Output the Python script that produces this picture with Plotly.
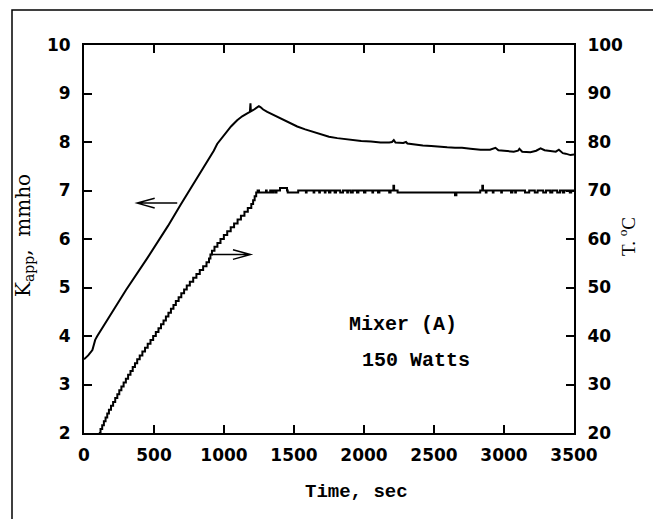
import plotly.graph_objects as go

# ---------------- data ----------------
k_time = [0, 30, 60, 80, 95, 110, 150, 213, 300, 451, 600, 689, 800, 927, 951,
          1000, 1050, 1094, 1130, 1166, 1185, 1189, 1192, 1210, 1230, 1249, 1260,
          1280, 1309, 1350, 1404, 1450, 1523, 1580, 1641, 1700, 1750, 1809, 1860,
          1927, 1980, 2050, 2118, 2180, 2200, 2213, 2225, 2280, 2300, 2310, 2356,
          2420, 2480, 2540, 2594, 2650, 2700, 2760, 2832, 2900, 2939, 2960, 3000,
          3070, 3100, 3110, 3130, 3189, 3230, 3261, 3290, 3332, 3370, 3392, 3420,
          3440, 3475, 3500]
k_app = [3.52, 3.60, 3.71, 3.92, 4.00, 4.07, 4.27, 4.54, 4.95, 5.60, 6.27, 6.70,
         7.22, 7.82, 7.96, 8.15, 8.32, 8.45, 8.53, 8.59, 8.62, 8.80, 8.63, 8.66,
         8.70, 8.74, 8.72, 8.67, 8.62, 8.56, 8.49, 8.42, 8.32, 8.26, 8.21, 8.15,
         8.11, 8.08, 8.06, 8.04, 8.02, 8.01, 7.99, 7.99, 8.00, 8.04, 7.99, 7.98,
         8.00, 7.97, 7.95, 7.93, 7.92, 7.90, 7.89, 7.88, 7.88, 7.86, 7.84, 7.84,
         7.88, 7.83, 7.82, 7.80, 7.82, 7.86, 7.80, 7.79, 7.82, 7.87, 7.83, 7.81,
         7.80, 7.84, 7.77, 7.76, 7.73, 7.74]

t_time = [106, 118, 130, 142, 154, 166, 178, 193, 208, 223, 238, 252, 267, 283,
          299, 315, 332, 348, 364, 380, 398, 417, 436, 455, 475, 494, 513, 532,
          550, 568, 585, 603, 621, 639, 656, 676, 695, 715, 734, 756, 780, 803,
          827, 851, 875, 893, 903, 914, 932, 953, 975, 999, 1023, 1048, 1072,
          1097, 1121, 1146, 1170, 1195, 1208, 1219, 1230,
          1240, 1250, 1300, 1305, 1330, 1340, 1350, 1365, 1375, 1400, 1450, 1455,
          1530, 1585, 1590, 1640, 1645, 1680, 1685, 1720, 1725, 1750, 1760, 1790,
          1800, 1830, 1850, 1880, 1885, 1905, 1920, 1950, 1960, 2000, 2010, 2060,
          2065, 2100, 2110, 2180, 2190, 2210, 2215, 2240, 2650, 2660, 2830, 2845,
          2850, 2870, 2875, 2920, 2925, 2980, 2985, 3050, 3060, 3080, 3085, 3150,
          3180, 3220, 3240, 3280, 3300, 3330, 3345, 3380, 3400, 3420, 3430, 3470,
          3480, 3500]
temp_c = [20.0, 20.8, 21.6, 22.4, 23.2, 24.0, 24.8, 25.6, 26.4, 27.2, 28.0, 28.8,
          29.6, 30.4, 31.2, 32.0, 32.8, 33.6, 34.4, 35.2, 36.0, 36.8, 37.6, 38.4,
          39.2, 40.0, 40.8, 41.6, 42.4, 43.2, 44.0, 44.8, 45.6, 46.4, 47.2, 48.0,
          48.8, 49.6, 50.4, 51.2, 52.0, 52.8, 53.6, 54.4, 55.2, 56.0, 56.8, 57.6,
          58.4, 59.2, 60.0, 60.8, 61.6, 62.4, 63.2, 64.0, 64.8, 65.6, 66.4, 67.2,
          68.0, 68.8, 69.6,
          70.0, 69.6, 70.0, 69.6, 70.0, 69.6, 70.0, 69.6, 70.0, 70.5, 70.0, 69.6,
          70.0, 69.6, 70.0, 69.6, 70.0, 69.6, 70.0, 69.6, 70.0, 69.6, 70.0, 69.6,
          70.0, 69.6, 70.0, 69.6, 70.0, 69.6, 70.0, 69.6, 70.0, 69.6, 70.0, 69.6,
          70.0, 69.6, 70.0, 69.6, 70.0, 71.0, 70.0, 69.6, 69.0, 69.6, 70.0, 71.0,
          70.0, 69.6, 70.0, 69.6, 70.0, 69.6, 70.0, 69.6, 70.0, 69.6, 70.0, 69.6,
          70.0, 69.6, 70.0, 69.6, 70.0, 69.6, 70.0, 69.6, 70.0, 69.6, 70.0, 69.6,
          70.0, 70.0]

x_ticks = [0, 500, 1000, 1500, 2000, 2500, 3000, 3500]
k_ticks = [2, 3, 4, 5, 6, 7, 8, 9, 10]
t_ticks = [20, 30, 40, 50, 60, 70, 80, 90, 100]

# ---------------- figure ----------------
W, H = 661, 519
OFF = 8                      # page body margin in the browser
PL, PR, PT, PB = 84, 574, 45, 433   # wanted plot-area box in the photo
ML, MT = PL - OFF, PT - OFF
MR, MB = W - PR + OFF, H - PB + OFF
PW, PH = PR - PL, PB - PT

fig = go.Figure()
fig.add_trace(go.Scatter(x=k_time, y=k_app, mode="lines",
                         line=dict(color="black", width=2), yaxis="y"))
fig.add_trace(go.Scatter(x=t_time, y=temp_c, mode="lines",
                         line=dict(color="black", width=2, shape="hv"), yaxis="y2"))

tickfont = dict(family="DejaVu Sans", size=17, color="black", weight="bold")
axis_common = dict(showgrid=False, zeroline=False, showline=True, linecolor="black",
                   linewidth=2, ticks="inside", ticklen=8, tickwidth=2,
                   tickcolor="black", tickfont=tickfont, automargin=False)

fig.update_layout(
    width=W, height=H, margin=dict(l=ML, r=MR, t=MT, b=MB, autoexpand=False),
    paper_bgcolor="white", plot_bgcolor="white", showlegend=False,
    xaxis=dict(range=[0, 3500], tickvals=x_ticks, mirror="ticks",
               ticklabelstandoff=6, **axis_common),
    yaxis=dict(range=[2, 10], tickvals=k_ticks, ticklabelstandoff=8, **axis_common),
    yaxis2=dict(range=[20, 100], tickvals=t_ticks, overlaying="y", side="right",
                ticklabelstandoff=8, **axis_common),
)

# arrows (open V heads)
def arrow_path(x0, x1, y, head_dx, head_dy):
    # x1 is the tip
    return (f"M {x0},{y} L {x1},{y} M {x1 + head_dx},{y + head_dy} "
            f"L {x1},{y} L {x1 + head_dx},{y - head_dy}")

fig.add_shape(type="path", xref="x", yref="y",
              path=arrow_path(666, 380, 6.74, 125, 0.10),
              line=dict(color="black", width=1.5))
fig.add_shape(type="path", xref="x", yref="y",
              path=arrow_path(904, 1189, 5.68, -125, 0.10),
              line=dict(color="black", width=1.5))

def px(x):
    return (x - PL) / PW

def py(y):
    return (PB - y) / PH

# outer frame
fig.add_shape(type="rect", xref="paper", yref="paper",
              x0=px(12), x1=px(720), y0=py(580), y1=py(10),
              line=dict(color="black", width=1.5))

mono = "Liberation Mono"
fig.add_annotation(x=2279, y=4.23, xref="x", yref="y", text="<b>Mixer (A)</b>",
                   xanchor="center", yanchor="middle",
                   showarrow=False, font=dict(family=mono, size=20, color="black"))
fig.add_annotation(x=2371, y=3.50, xref="x", yref="y", text="<b>150 Watts</b>",
                   xanchor="center", yanchor="middle",
                   showarrow=False, font=dict(family=mono, size=20, color="black"))

fig.add_annotation(x=px(356), y=py(492), xref="paper", yref="paper",
                   xanchor="center", yanchor="middle",
                   text="<b>Time, sec</b>", showarrow=False,
                   font=dict(family=mono, size=19, color="black"))
fig.add_annotation(x=px(24), y=py(236), xref="paper", yref="paper",
                   xanchor="center", yanchor="middle",
                   text="K<sub>app</sub>,  mmho", textangle=-90, showarrow=False,
                   font=dict(family="DejaVu Serif", size=20, color="black"))
fig.add_annotation(x=px(627), y=py(237), xref="paper", yref="paper",
                   xanchor="center", yanchor="middle",
                   text="T. <sup>o</sup>C", textangle=-90, showarrow=False,
                   font=dict(family="Liberation Serif", size=19, color="black"))

fig.write_html("out.html")
